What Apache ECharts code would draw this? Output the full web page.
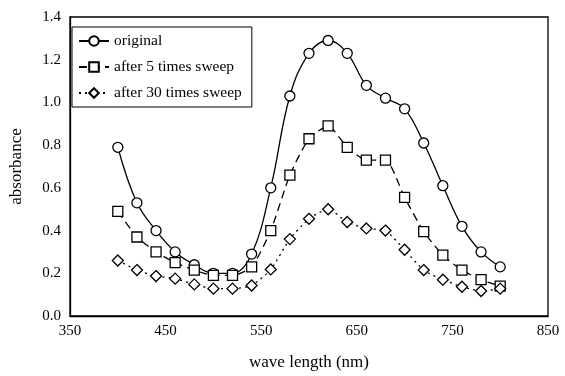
<!DOCTYPE html>
<html><head><meta charset="utf-8">
<script src="https://cdn.jsdelivr.net/npm/echarts@6/dist/echarts.min.js"></script>
<style>html,body{margin:0;padding:0;background:#fff}#c{width:565px;height:376px}</style>
</head><body><div id="c"></div>
<script>
const wavelengths = [400,420,440,460,480,500,520,540,560,580,600,620,640,660,680,700,720,740,760,780,800];
const original = [0.79,0.53,0.40,0.30,0.24,0.20,0.20,0.29,0.60,1.03,1.23,1.29,1.23,1.08,1.02,0.97,0.81,0.61,0.42,0.30,0.23];
const sweep5 = [0.49,0.37,0.30,0.25,0.215,0.19,0.19,0.23,0.40,0.66,0.83,0.89,0.79,0.73,0.73,0.555,0.395,0.285,0.215,0.17,0.14];
const sweep30 = [0.26,0.215,0.187,0.175,0.148,0.128,0.128,0.143,0.218,0.36,0.455,0.50,0.44,0.41,0.40,0.31,0.215,0.17,0.137,0.117,0.128];
const seriesNames = ['original','after 5 times sweep','after 30 times sweep'];
const font = 'Liberation Serif';
const pts = arr => wavelengths.map((w,i)=>[w,arr[i]]);
const chart = echarts.init(document.getElementById('c'));
const mk = (name, data, symbol, type, smooth) => ({
  name, type:'line', data: pts(data), symbol, symbolSize: symbol==='diamond'?11:10, smooth,
  lineStyle:{color:'#000', width:1.3, type},
  itemStyle:{color:'#fff', borderColor:'#000', borderWidth:1.3},
  emphasis:{disabled:true}
});
chart.setOption({
  animation:false,
  backgroundColor:'#fff',
  textStyle:{fontFamily:font, color:'#000'},
  grid:{left:69, right:17, top:17, bottom:59, show:true, borderColor:'#000', borderWidth:1.3},
  legend:{
    orient:'vertical', left:72, top:27,
    borderColor:'#000', borderWidth:1, padding:[6,10,6,6], itemGap:10,
    itemWidth:30, itemHeight:12,
    textStyle:{fontFamily:font, fontSize:15.5, color:'#000'},
    data:seriesNames
  },
  xAxis:{
    type:'value', min:350, max:850, interval:100,
    name:'wave length (nm)', nameLocation:'middle', nameGap:38,
    nameTextStyle:{fontFamily:font, fontSize:17, color:'#000'},
    axisLine:{show:true, lineStyle:{color:'#000', width:1.3}},
    axisTick:{show:false}, splitLine:{show:false},
    axisLabel:{fontFamily:font, fontSize:15, color:'#000', margin:8}
  },
  yAxis:{
    type:'value', min:0, max:1.4, interval:0.2,
    name:'absorbance', nameLocation:'middle', nameGap:45,
    nameTextStyle:{fontFamily:font, fontSize:17, color:'#000'},
    axisLine:{show:true, lineStyle:{color:'#000', width:1.3}},
    axisTick:{show:false}, splitLine:{show:false},
    axisLabel:{fontFamily:font, fontSize:15, color:'#000', margin:9, formatter:v=>v.toFixed(1)}
  },
  series:[
    mk(seriesNames[0], original, 'circle', 'solid', 0.4),
    mk(seriesNames[1], sweep5, 'rect', [8,5], 0.2),
    mk(seriesNames[2], sweep30, 'diamond', [2,4], 0.2)
  ]
});
</script></body></html>
